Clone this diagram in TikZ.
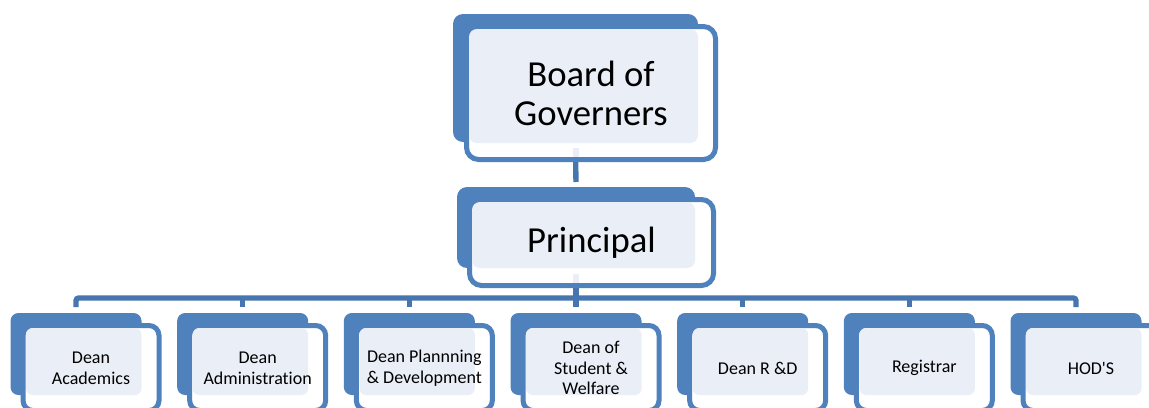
\documentclass[tikz,border=0pt]{standalone}
\usepackage{fontspec}
\setmainfont{Carlito}[Ligatures={TeX,NoCommon}]
\usetikzlibrary{calc}
\definecolor{ob}{HTML}{4F81BD}
\definecolor{oc}{HTML}{4775B0}
\definecolor{lt}{HTML}{EAEFF7}
\pgfdeclarelayer{background}
\pgfdeclarelayer{canvas}
\pgfsetlayers{canvas,background,main}
\begin{document}
\begin{tikzpicture}[x=0.75pt,y=-0.75pt,
  sz/.style 2 args={minimum width=#1*0.75pt,minimum height=#2*0.75pt},
  backbox/.style={draw=none,fill=ob,inner sep=0pt,outer sep=0pt,rounded corners=7.5pt},
  frontbox/.style={draw=ob,fill=white,line width=3.75pt,inner sep=0pt,outer sep=0pt,rounded corners=9pt},
  lightbox/.style={draw=none,fill=lt,inner sep=0pt,outer sep=0pt,rounded corners=6pt},
  bigtext/.style={font=\fontsize{27.5}{29.3}\selectfont,align=center,text=black,inner sep=0pt},
  smalltext/.style={font=\fontsize{13.5}{15.6}\selectfont,align=center,text=black,inner sep=0pt},
  conn/.style={draw=oc,line width=4pt},
  conntip/.style={draw=lt,line width=4pt}]
\useasboundingbox (0,0) rectangle (1149,407);
\begin{pgfonlayer}{canvas}
\fill[white] (0,0) rectangle (1149,407);
\end{pgfonlayer}

% Board of Governers
\node[backbox,sz={245}{128}] (bog) at (575.5,78) {};
\node[frontbox,sz={249}{133}] (bogf) at (591,93) {};
\node[lightbox,sz={229}{114}] (bogl) at (583.5,86) {};
\node[bigtext] (bogt) at (bogf.center) {Board of\\Governers};

% Principal
\node[backbox,sz={238}{81}] (pri) at (576,227.5) {};
\node[frontbox,sz={244}{86}] (prif) at (591.5,242.5) {};
\node[lightbox,sz={223}{66}] (pril) at (583.5,235) {};
\node[bigtext] (prit) at (prif.center) {Principal};

% Bottom row
\foreach \i/\t in {0/{Dean\\Academics},1/{Dean\\Administration},2/{Dean Plannning\\\& Development},3/{Dean of\\Student \&\\Welfare},4/{Dean R \&D},5/{Registrar},6/{HOD\textquotesingle S}}{
  \pgfmathsetmacro{\cx}{76+\i*166.667}
  \node[backbox,rounded corners=6pt,sz={131}{82}] (d\i) at (\cx,354) {};
  \node[frontbox,rounded corners=7.5pt,sz={136}{85}] (d\i f) at (\cx+15,368) {};
  \node[lightbox,rounded corners=5pt,sz={115.5}{67}] (d\i l) at (\cx+7.75,361.5) {};
  \node[smalltext] (d\i t) at (d\i f.center) {\t};
}

\coordinate (bar) at (576,298);

\begin{pgfonlayer}{background}
  \draw[conn,shorten >=3.75pt] (bog.south) -- (pri.north);
  \draw[conn] (pri.south) -- (bar);
  \draw[conn,rounded corners=2pt] ([yshift=4.5pt]d0.north) |- (bar) -| ([yshift=4.5pt]d6.north);
  \foreach \i in {1,...,5}{
    \draw[conn] (bar -| d\i.north) -- ([yshift=4.5pt]d\i.north);
  }
\end{pgfonlayer}

% light parts of the connectors inside the front boxes
\draw[conntip] ($(bog.south)+(0.5,6)$) -- ($(bogf.south)+(-15,-2.5)$);
\draw[conntip] ($(pri.south)+(0,6)$) -- ($(prif.south)+(-15.5,-2.5)$);
\end{tikzpicture}
\end{document}
